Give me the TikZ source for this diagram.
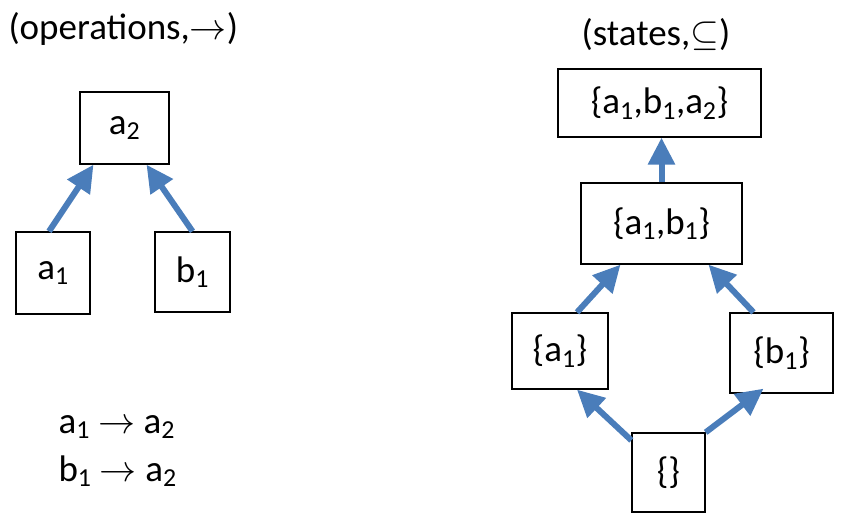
\RequirePackage{fix-cm}
\documentclass[tikz,border=0pt]{standalone}
\usepackage{fontspec}
\setmainfont{Carlito}
\usepackage{tikz}
\usetikzlibrary{arrows.meta}
\definecolor{flowblue}{rgb}{0.29, 0.49, 0.73}

\begin{document}
\begin{tikzpicture}[x=1pt,y=1pt,
    setbox/.style={draw=black,line width=1.3pt,inner sep=0pt,font=\fontsize{37}{44}\selectfont},
    label/.style={font=\fontsize{37}{44}\selectfont},
    flow/.style={draw=flowblue,line width=6pt,-{Triangle[length=27pt,width=26pt]}}]
    \useasboundingbox (0,0) rectangle (845,523); % same frame as the original

    % left: operations and their order
    \node[label,anchor=west] (optitle) at (5,494) {(operations,$\rightarrow$)};
    \node[setbox,minimum width=89pt,minimum height=72pt] (a2) at (124.5,395) {a\textsubscript{2}};
    \node[setbox,minimum width=74pt,minimum height=82pt] (a1) at (53,250) {a\textsubscript{1}};
    \node[setbox,minimum width=75pt,minimum height=80pt] (b1) at (192.5,251) {b\textsubscript{1}};
    \draw[flow] ([xshift=-4pt]a1.north) -- ([xshift=-31pt]a2.south);
    \draw[flow] (b1.north) -- ([xshift=22pt]a2.south);

    \node[label,anchor=base west] (rulea) at (55,90) {a\textsubscript{1} $\rightarrow$ a\textsubscript{2}};
    \node[label,anchor=base west] (ruleb) at (55,42) {b\textsubscript{1} $\rightarrow$ a\textsubscript{2}};

    % right: states ordered by inclusion
    \node[label] (sttitle) at (656,488) {(states,$\subseteq$)};
    \node[setbox,minimum width=203pt,minimum height=68pt] (sab2) at (659.5,420) {\{a\textsubscript{1},b\textsubscript{1},a\textsubscript{2}\}};
    \node[setbox,minimum width=161pt,minimum height=81pt] (sab) at (661.5,299.5) {\{a\textsubscript{1},b\textsubscript{1}\}};
    \node[setbox,minimum width=96pt,minimum height=76pt] (sa) at (560,172) {\{a\textsubscript{1}\}};
    \node[setbox,minimum width=103pt,minimum height=80pt] (sb) at (781.5,170) {\{b\textsubscript{1}\}};
    \node[setbox,minimum width=73pt,minimum height=79pt] (sempty) at (668.5,50.5) {\{\}};

    \draw[flow] (sab.north) -- (sab.north |- sab2.south);
    \draw[flow] ([xshift=17pt]sa.north) -- ([xshift=-41pt]sab.south);
    \draw[flow] ([xshift=-28pt]sb.north) -- ([xshift=47pt]sab.south);
    \draw[flow] ([yshift=-8pt]sempty.north west) -- ([xshift=17pt]sa.south);
    \draw[flow] (sempty.north east) -- ([xshift=-18pt,yshift=5pt]sb.south);
\end{tikzpicture}
\end{document}
